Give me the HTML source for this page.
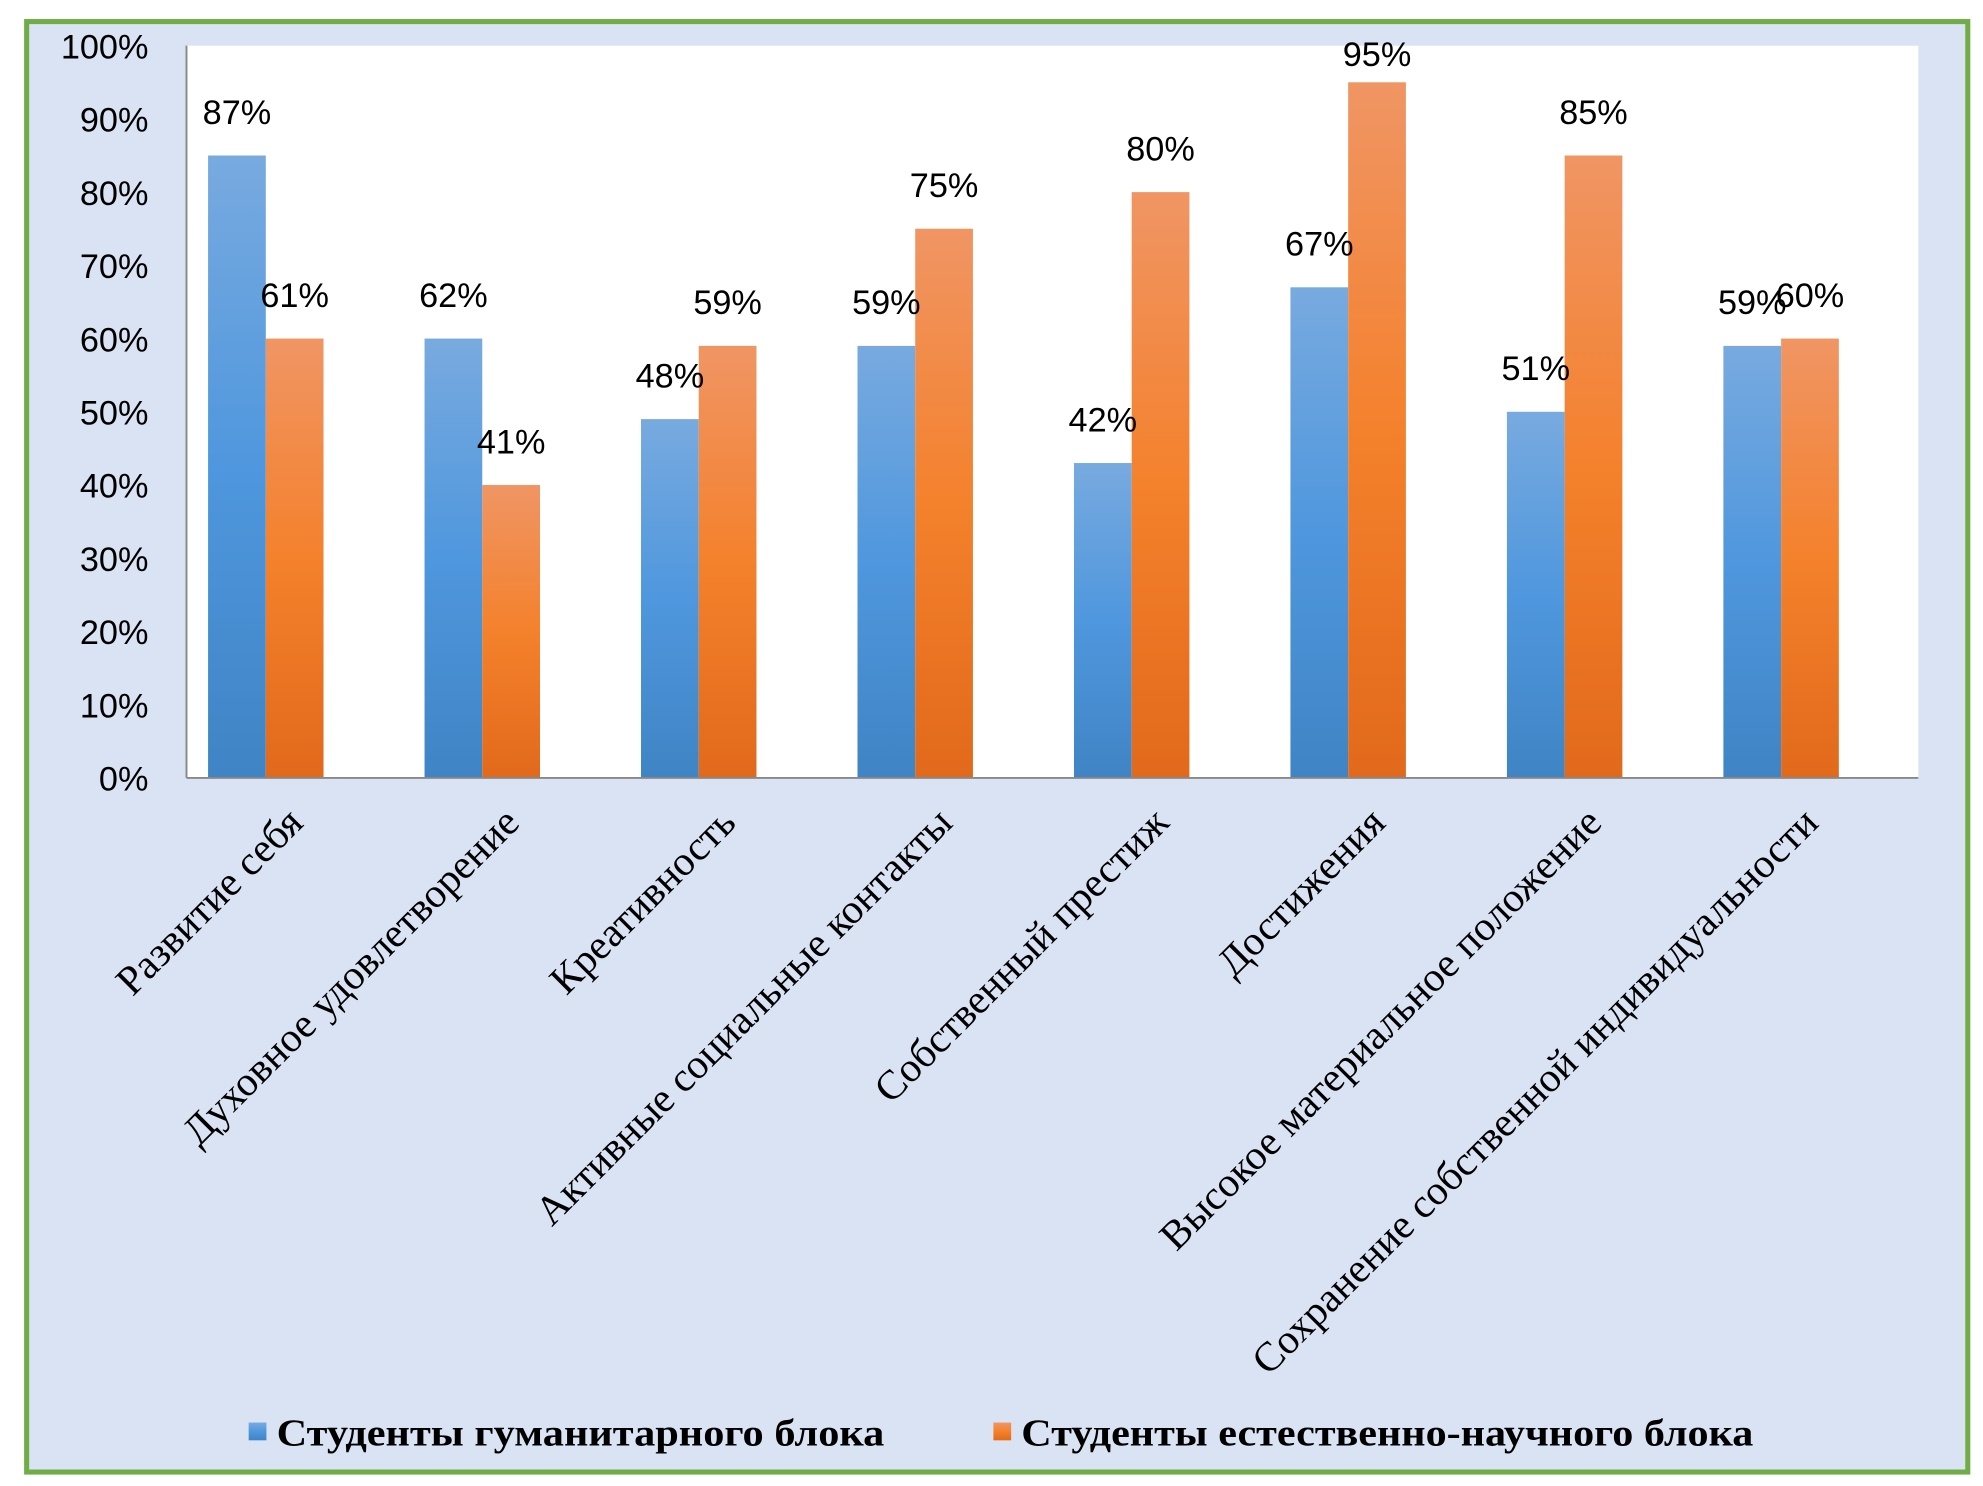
<!DOCTYPE html>
<html><head><meta charset="utf-8"><style>html,body{margin:0;padding:0;background:#fff}svg{display:block}</style></head>
<body>
<svg width="1983" height="1486" viewBox="0 0 1563 1171" preserveAspectRatio="none" xmlns="http://www.w3.org/2000/svg">
<defs>
<linearGradient id="gb" x1="0" y1="0" x2="0" y2="1"><stop offset="0" stop-color="#78aadf"/><stop offset="0.5" stop-color="#4f97de"/><stop offset="1" stop-color="#3f84c4"/></linearGradient>
<linearGradient id="go" x1="0" y1="0" x2="0" y2="1"><stop offset="0" stop-color="#f09564"/><stop offset="0.5" stop-color="#f4812c"/><stop offset="1" stop-color="#e2691b"/></linearGradient>
</defs>
<rect x="0" y="0" width="1563" height="1171" fill="#fff"/>
<rect x="21" y="17" width="1530" height="1143" fill="#dae3f3" stroke="#70ad47" stroke-width="4"/>
<rect x="147" y="36" width="1365" height="577" fill="#fff"/>
<g id="yaxis"></g><g id="bars"></g><g id="labels"></g><g id="cats"></g>
<line x1="147" y1="613" x2="1512" y2="613" stroke="#888" stroke-width="1.5"/>
<line x1="147" y1="36" x2="147" y2="613" stroke="#888" stroke-width="1.5"/>
<g font-family="Liberation Serif, serif" font-weight="bold" font-size="30">
<rect x="196" y="1121" width="14" height="14" fill="url(#gb)"/>
<text x="218" y="1139" textLength="479" lengthAdjust="spacingAndGlyphs">Студенты гуманитарного блока</text>
<rect x="783" y="1121" width="14" height="14" fill="url(#go)"/>
<text x="805" y="1139" textLength="577" lengthAdjust="spacingAndGlyphs">Студенты естественно-научного блока</text>
</g>
</svg>
<script>
const categories=["Развитие себя","Духовное удовлетворение","Креативность","Активные социальные контакты","Собственный престиж","Достижения","Высокое материальное положение","Сохранение собственной индивидуальности"];
const humanities=[85,60,49,59,43,67,50,59];
const science=[60,40,59,75,80,95,85,60];
const humanitiesLabels=["87%","62%","48%","59%","42%","67%","51%","59%"];
const scienceLabels=["61%","41%","59%","75%","80%","95%","85%","60%"];
const yTicks=[0,10,20,30,40,50,60,70,80,90,100];
const NS="http://www.w3.org/2000/svg";
const X0=147,X1=1512,Y0=613,Y1=36;
const y=v=>Y0-(v/100)*(Y0-Y1);
const ly=v=>Math.max(y(v)-25,52);
const gw=(X1-X0)/categories.length;
const gx=i=>X0+i*gw;
function mk(t,a,txt){const e=document.createElementNS(NS,t);for(const k in a)e.setAttribute(k,a[k]);if(txt!==undefined)e.textContent=txt;return e;}
const ya=document.getElementById('yaxis');
yTicks.forEach(t=>{const e=mk('text',{x:117,y:y(t)+10,'text-anchor':'end','font-family':'Liberation Sans, sans-serif','font-size':27,fill:'#000'},t+'%');


ya.appendChild(e);});
const bg=document.getElementById('bars'),lg=document.getElementById('labels'),cg=document.getElementById('cats');
const bw=45.5;
categories.forEach((c,i)=>{
 const bx=gx(i)+17;
 const r1=mk('rect',{x:bx,y:y(humanities[i]),width:bw,height:Y0-y(humanities[i]),fill:'url(#gb)'});
 
 
 bg.appendChild(r1);
 const r2=mk('rect',{x:bx+bw,y:y(science[i]),width:bw,height:Y0-y(science[i]),fill:'url(#go)'});
 
 
 bg.appendChild(r2);
 const l1=mk('text',{x:bx+bw/2,y:ly(humanities[i]),'text-anchor':'middle','font-family':'Liberation Sans, sans-serif','font-size':27},humanitiesLabels[i]);
 
 
 lg.appendChild(l1);
 const l2=mk('text',{x:bx+bw*1.5,y:ly(science[i]),'text-anchor':'middle','font-family':'Liberation Sans, sans-serif','font-size':27},scienceLabels[i]);
 
 
 lg.appendChild(l2);
 const ax=gx(i)+gw/2+8,ay=650;
 const ct=mk('text',{x:ax,y:ay,'text-anchor':'end','font-family':'Liberation Serif, serif','font-size':32.5,transform:`rotate(-45 ${ax} ${ay})`},c);
 
 
 cg.appendChild(ct);
});
</script>
</body></html>
